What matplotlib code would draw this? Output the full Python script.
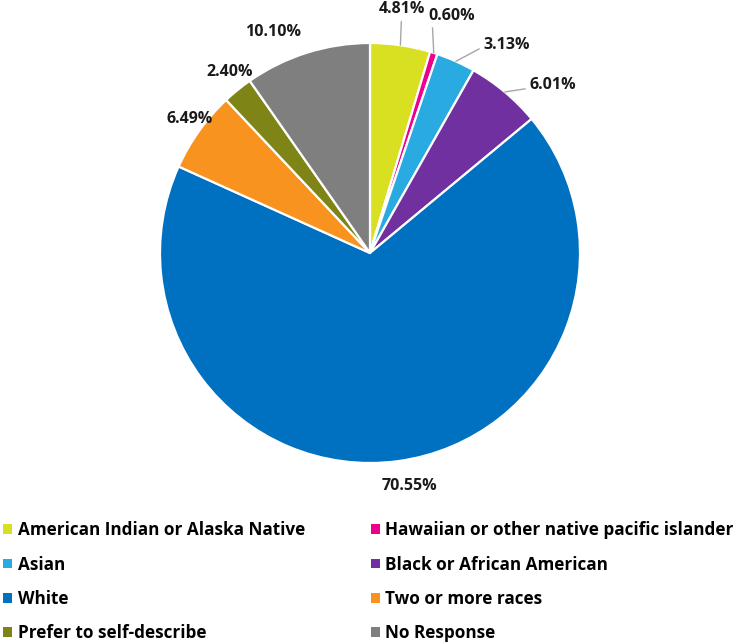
import numpy as np
import matplotlib.pyplot as plt
from matplotlib.patches import Patch

categorias = ["American Indian or Alaska Native", "Hawaiian or other native pacific islander",
              "Asian", "Black or African American", "White", "Two or more races",
              "Prefer to self-describe", "No Response"]
valores = [4.81, 0.60, 3.13, 6.01, 70.55, 6.49, 2.40, 10.10]
cores = ["#d9e021", "#ec008c", "#29abe2", "#7030a0", "#0070c0", "#f7931e", "#7f8416", "#7f7f7f"]

# posicao dos rotulos (unidades do eixo, raio = 1)
pos_rotulos = [(0.15, 1.16), (0.39, 1.13), (0.65, 0.99), (0.87, 0.80),
               (0.19, -1.11), (-0.86, 0.64), (-0.67, 0.86), (-0.46, 1.05)]
# linha guia: (relpos no texto, estilo) ou None
linhas = [((0.5, 0), "arc3"), ((0.08, 0), "arc3"),
          ((0, 0.3), "angle,angleA=0,angleB=28,rad=0"), ((0, 0.3), "arc3"),
          None, None, None, None]

plt.rcParams['font.family'] = ['Open Sans', 'DejaVu Sans']
plt.rcParams['font.weight'] = 'bold'

W, H = 747, 644
fig = plt.figure(figsize=(W / 100, H / 100), dpi=100)
cx, cy, r = 370, 253, 210
ax = fig.add_axes([(cx - r) / W, (H - cy - r) / H, 2 * r / W, 2 * r / H])

wedges, _ = ax.pie(valores, colors=cores, startangle=90, counterclock=False,
                   wedgeprops=dict(edgecolor='white', linewidth=1.6))
ax.set_xlim(-1, 1)
ax.set_ylim(-1, 1)
ax.set_aspect('equal')
ax.axis('off')

for w, val, (tx, ty), linha in zip(wedges, valores, pos_rotulos, linhas):
    ang = np.radians((w.theta1 + w.theta2) / 2)
    texto = f"{val:.2f}%"
    if linha:
        relpos, estilo = linha
        xy = (np.cos(ang), np.sin(ang))
        ax.annotate(texto, xy=xy, xytext=(tx, ty), ha='center', va='center',
                    fontsize=11.5, fontweight='bold', color='#1a1a1a',
                    arrowprops=dict(arrowstyle='-', color='#a6a6a6', lw=1,
                                    shrinkA=1, shrinkB=0, relpos=relpos,
                                    connectionstyle=estilo), annotation_clip=False)
    else:
        ax.text(tx, ty, texto, ha='center', va='center', fontsize=11.5,
                fontweight='bold', color='#1a1a1a')

ordem = [0, 2, 4, 6, 1, 3, 5, 7]
handles = [Patch(facecolor=cores[i], edgecolor='none') for i in ordem]
labels = [categorias[i] for i in ordem]
fig.legend(handles, labels, ncol=2, loc='upper left', bbox_to_anchor=(0.0, 0.196),
           frameon=False, prop=dict(size=12.3, weight='bold'), handlelength=0.5,
           handleheight=0.5, handletextpad=0.35, labelspacing=0.96,
           columnspacing=3.85, borderaxespad=0, borderpad=0.2, labelcolor='#000000')

fig.savefig("out.png", dpi=100, facecolor='white')
